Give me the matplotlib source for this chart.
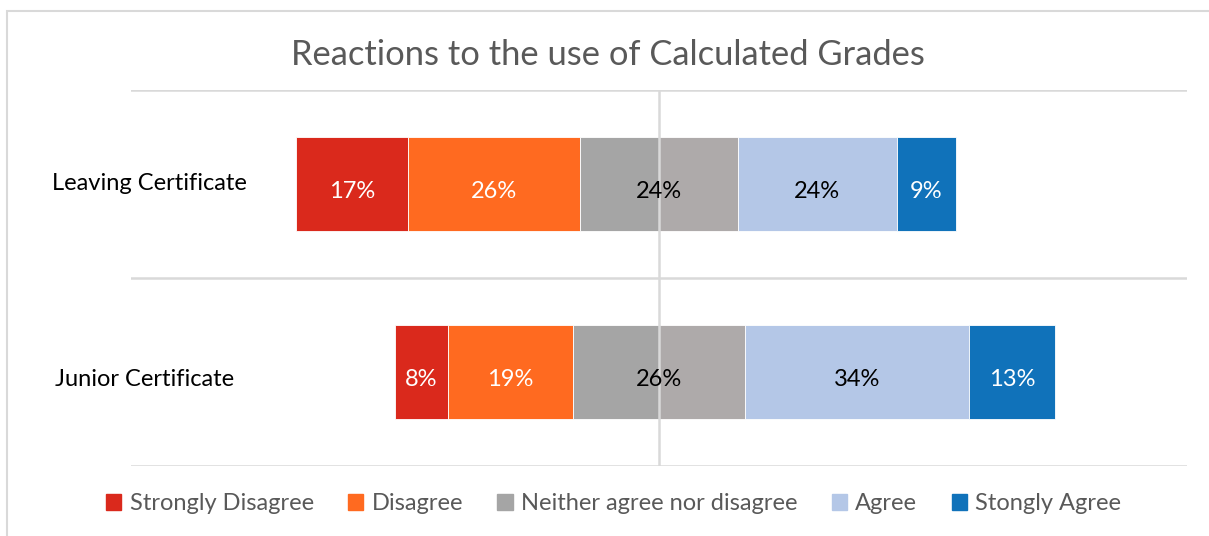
import matplotlib.pyplot as plt
from matplotlib.patches import Patch, Rectangle

categories = ["Junior Certificate", "Leaving Certificate"]
strongly_disagree = [8, 17]
disagree = [19, 26]
neutral = [26, 24]
agree = [34, 24]
strongly_agree = [13, 9]
series_names = ["Strongly Disagree", "Disagree", "Neither agree nor disagree",
                "Agree", "Stongly Agree"]

plt.rcParams["font.family"] = ["Lato", "DejaVu Sans"]

c_sd = "#DA291C"
c_d = "#FF6A20"
c_n_left = "#A5A5A5"
c_n_right = "#AEAAAA"
c_a = "#B4C7E7"
c_sa = "#1072BA"


def main():
    fig = plt.figure(figsize=(12.09, 5.36), dpi=100)
    ax = fig.add_axes([131 / 1209, 1 - 466 / 536, (1187 - 131) / 1209, (466 - 90) / 536])

    y = list(range(len(categories)))
    h = 0.505
    for i in y:
        half = neutral[i] / 2
        segs = [
            (-half - disagree[i] - strongly_disagree[i], strongly_disagree[i], c_sd, "white"),
            (-half - disagree[i], disagree[i], c_d, "white"),
            (-half, half, c_n_left, None),
            (0, half, c_n_right, None),
            (half, agree[i], c_a, "black"),
            (half + agree[i], strongly_agree[i], c_sa, "white"),
        ]
        for left, width, color, txt in segs:
            ax.barh(i, width, left=left, height=h, color=color,
                    edgecolor="white", linewidth=0.6, zorder=2)
            if txt is not None:
                ax.text(left + width / 2, i - 0.04, f"{width:.0f}%", ha="center",
                        va="center", color=txt, fontsize=17, zorder=4)
        ax.text(0, i - 0.04, f"{neutral[i]:.0f}%", ha="center", va="center",
                color="black", fontsize=17, zorder=4)

    ax.set_xlim(-80, 80)
    ax.set_ylim(-0.5, 1.5)
    for g in [-0.5, 0.5, 1.5]:
        ax.axhline(g, color="#D9D9D9", lw=1.8, zorder=1)
    ax.axvline(0, color="#D9D9D9", lw=1.8, zorder=3)
    for s in ax.spines.values():
        s.set_visible(False)
    ax.set_xticks([])
    ax.set_yticks([])
    label_x = [-91.5, -92]
    label_dy = [-0.04, 0.0]
    for i, cat in enumerate(categories):
        ax.text(label_x[i], i + label_dy[i], cat, ha="left", va="center",
                fontsize=17, color="black", clip_on=False)

    fig.text(0.503, 1 - 55 / 536, "Reactions to the use of Calculated Grades",
             ha="center", va="center", fontsize=24.8, color="#595959")

    handles = [Patch(color=c) for c in [c_sd, c_d, c_n_left, c_a, c_sa]]
    fig.legend(handles, series_names, loc="center", ncol=5,
               bbox_to_anchor=(0.5075, 1 - 504 / 536), frameon=False,
               fontsize=17, labelcolor="#595959", handlelength=0.65,
               handleheight=0.65, handletextpad=0.35, columnspacing=1.45)

    fig.patches.append(Rectangle((7 / 1209, -0.1), 1.2, 1.1 - 11 / 536,
                                 transform=fig.transFigure, fill=False,
                                 edgecolor="#D9D9D9", lw=1.5))
    fig.savefig("out.png", dpi=100)


if __name__ == "__main__":
    main()
